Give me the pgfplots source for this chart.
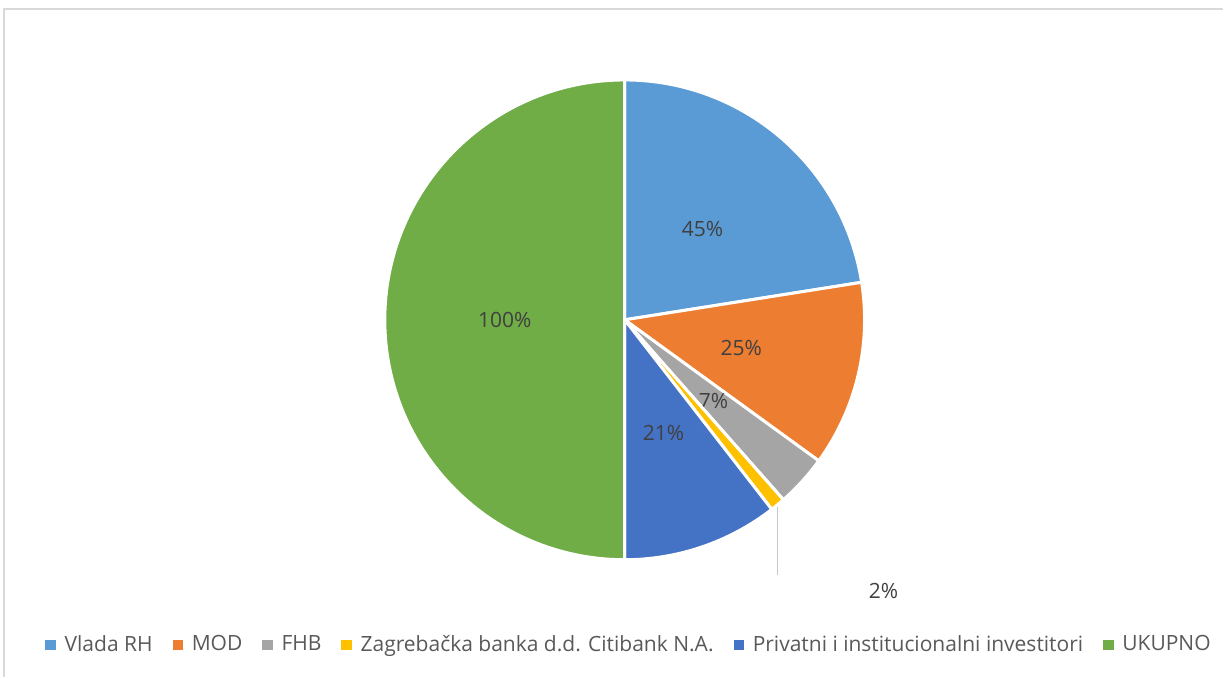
\documentclass[border=0pt]{standalone}
\usepackage{pgfplots}
\pgfplotsset{compat=1.18}
\usepackage{pgfplotstable}
\usepackage{fontspec}
\setmainfont{Open Sans}

\definecolor{c1}{HTML}{5B9BD5}
\definecolor{c2}{HTML}{ED7D31}
\definecolor{c3}{HTML}{A5A5A5}
\definecolor{c4}{HTML}{FFC000}
\definecolor{c5}{HTML}{4472C4}
\definecolor{c6}{HTML}{70AD47}
\definecolor{lbl}{HTML}{404040}
\definecolor{legtext}{HTML}{595959}
\definecolor{framecol}{HTML}{D9D9D9}

\pgfplotstableread[col sep=comma]{
name,value,colour
Vlada RH,45,c1
MOD,25,c2
FHB,7,c3
Zagrebačka banka d.d. Citibank N.A.,2,c4
Privatni i institucionalni investitori,21,c5
UKUPNO,100,c6
}\piedata

\begin{document}
\begin{tikzpicture}
\begin{axis}[
  scale only axis, width=612pt, height=338.5pt,
  xmin=0, xmax=1224, ymin=0, ymax=677,
  hide axis, clip=false,
  legend columns=6,
  legend image code/.code={\fill[#1, draw=none] (0pt,-2.6pt) rectangle (5.2pt,2.6pt);
    \path (7.4pt,0pt);},
  legend style={draw=none, fill=none, at={(0.515,0.047)}, anchor=center,
    font=\fontsize{10.5}{12}\selectfont, text=legtext, inner sep=0pt,
    /tikz/every even column/.append style={column sep=8pt}},
]
\path (axis cs:0,0) (axis cs:1224,677);
\draw[framecol, line width=0.6pt] (axis cs:4,0) -- (axis cs:4,668) -- (axis cs:1224,668);

\pgfplotstablegetrowsof{\piedata}
\pgfmathtruncatemacro{\nrows}{\pgfplotsretval-1}
\def\total{0}
\pgfplotsforeachungrouped \i in {0,...,\nrows}{%
  \pgfplotstablegetelem{\i}{value}\of{\piedata}%
  \pgfmathsetmacro{\total}{\total+\pgfplotsretval}%
}
\def\startang{90}
\pgfplotsforeachungrouped \i in {0,...,\nrows}{%
  \pgfplotstablegetelem{\i}{value}\of{\piedata}\let\val\pgfplotsretval
  \pgfplotstablegetelem{\i}{colour}\of{\piedata}\let\col\pgfplotsretval
  \pgfplotstablegetelem{\i}{name}\of{\piedata}\let\nam\pgfplotsretval
  \pgfmathsetmacro{\endang}{\startang-\val/\total*360}%
  \pgfmathsetmacro{\midang}{(\startang+\endang)/2}%
  \pgfmathtruncatemacro{\pct}{\val}%
  \edef\cmd{%
    \noexpand\filldraw[fill=\col, draw=white, line width=1.5pt, line join=round]
      (axis cs:625,357) -- ++(\startang:120pt)
      arc[start angle=\startang, end angle=\endang, radius=120pt] -- cycle;
    \noexpand\addlegendimage{fill=\col}
    \noexpand\addlegendentry{\nam}
  }\cmd
  \ifnum\i=3
    \edef\cmd{%
      \noexpand\node[text=lbl, font=\noexpand\fontsize{10.5}{12}\noexpand\selectfont]
        at (axis cs:884,86) {\pct\noexpand\%};
    }\cmd
  \else
    \edef\cmd{%
      \noexpand\node[text=lbl, font=\noexpand\fontsize{10.5}{12}\noexpand\selectfont,
        shift={(\midang:60pt)}] at (axis cs:625,357) {\pct\noexpand\%};
    }\cmd
  \fi
  \let\startang\endang
}
\draw[framecol!80!gray, line width=0.8pt] (axis cs:778,170) -- (axis cs:778,102);
\end{axis}
\end{tikzpicture}
\end{document}
